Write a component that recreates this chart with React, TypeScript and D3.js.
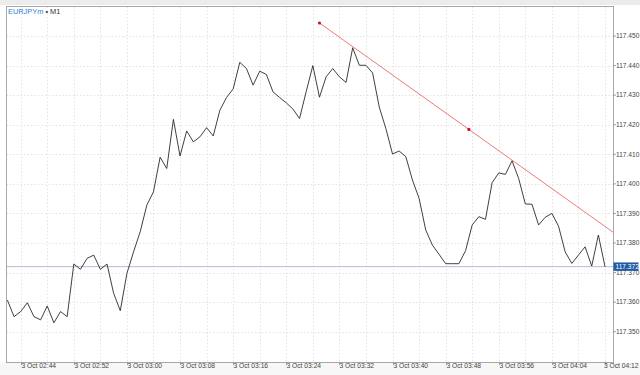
import React from "react";
import * as d3 from "d3";

const symbol = "EURJPYm";
const period = "M1";
const startTime = new Date(2023, 9, 3, 2, 42);
// one close per minute from 02:42 to 04:12
const closes = [
  117.3607, 117.3551, 117.3568, 117.3598, 117.3551, 117.354, 117.3587, 117.353, 117.3568, 117.3551,
  117.3729, 117.3711, 117.3748, 117.3759, 117.3711, 117.3729, 117.363, 117.3571, 117.3697, 117.377,
  117.3838, 117.3928, 117.3973, 117.409, 117.4052, 117.4218, 117.4094, 117.4179, 117.4142, 117.4159,
  117.419, 117.4162, 117.4249, 117.4292, 117.4321, 117.4411, 117.439, 117.4334, 117.4381, 117.437,
  117.4311, 117.4292, 117.4274, 117.4253, 117.4221, 117.4312, 117.44, 117.4293, 117.4362, 117.439,
  117.4362, 117.4343, 117.446, 117.4401, 117.4401, 117.4375, 117.426, 117.4187, 117.4101, 117.4111,
  117.4092, 117.4013, 117.3951, 117.3844, 117.3793, 117.3762, 117.373, 117.373, 117.373, 117.3774,
  117.3861, 117.3889, 117.388, 117.4004, 117.4037, 117.4032, 117.4078, 117.4018, 117.3932, 117.3931,
  117.3861, 117.3887, 117.39, 117.3857, 117.377, 117.3731, 117.3759, 117.3787, 117.3722, 117.3827,
  117.372,
];
const currentPrice = 117.372;
// trendline anchors (minutes after start, price)
const trendMinutes = [47, 92];
const trendPrices = [117.4544, 117.3824];
const priceTicks = [117.35, 117.36, 117.37, 117.38, 117.39, 117.4, 117.41, 117.42, 117.43, 117.44, 117.45];
const timeLabelMinutes = [2, 10, 18, 26, 34, 42, 50, 58, 66, 74, 82, 90];
const gridMinutes = [2, 6, 10, 14, 18, 22, 26, 30, 34, 38, 42, 46, 50, 54, 58, 62, 66, 70, 74, 78, 82, 86, 90];

const W = 640, H = 375;
const L = 6.5, R = 613.5, T = 6.5, B = 362.5;
const FONT = "'Liberation Sans', Arial, sans-serif";

const addMin = (m: number) => new Date(startTime.getTime() + m * 60000);

export default function App() {
  const x = d3.scaleTime().domain([addMin(0), addMin(90)]).range([7.4, 605]);
  const y = d3.scaleLinear().domain([117.35, 117.45]).range([331.7, 36]);
  const pts: [Date, number][] = closes.map((c, i) => [addMin(i), c]);
  const line = d3.line<[Date, number]>().x((d) => x(d[0])).y((d) => y(d[1]));
  const fmtTime = d3.timeFormat("%-d %b %H:%M");
  const ta = trendMinutes.map((m, i) => [x(addMin(m)), y(trendPrices[i])]);
  const mid = [(ta[0][0] + ta[1][0]) / 2, (ta[0][1] + ta[1][1]) / 2];
  const cy = y(currentPrice);

  return (
    <svg width={W} height={H} style={{ position: "absolute", left: 0, top: 0, background: "#fff" }} fontFamily={FONT}>
      <defs>
        <clipPath id="plot">
          <rect x={L} y={T} width={R - L} height={B - T} />
        </clipPath>
      </defs>
      <rect x={0} y={0} width={W} height={H} fill="#fff" />
      <rect x={0} y={0} width={W} height={5} fill="#ececec" />
      <rect x={0} y={B} width={W} height={H - B} fill="#f7f7f7" />
      {/* grid */}
      <g stroke="#dcdcdc" strokeWidth={0.8} strokeDasharray="1.5,2" clipPath="url(#plot)">
        {priceTicks.map((p) => (
          <line key={"h" + p} x1={L} x2={R} y1={Math.round(y(p)) + 0.5} y2={Math.round(y(p)) + 0.5} />
        ))}
        {gridMinutes.map((m) => (
          <line key={"v" + m} x1={Math.round(x(addMin(m))) + 0.5} x2={Math.round(x(addMin(m))) + 0.5} y1={T} y2={B} />
        ))}
      </g>
      {/* current price line */}
      <line x1={L} x2={R} y1={cy} y2={cy} stroke="#b4bcd4" strokeWidth={1} />
      {/* price line */}
      <path d={line(pts) || ""} fill="none" stroke="#2a2a2a" strokeWidth={0.9} clipPath="url(#plot)" />
      {/* trendline */}
      <g clipPath="url(#plot)">
        <line x1={ta[0][0]} y1={ta[0][1]} x2={ta[1][0]} y2={ta[1][1]} stroke="#e86b6b" strokeWidth={0.9} />
        <circle cx={ta[0][0]} cy={ta[0][1]} r={1.6} fill="#c8141e" />
        <circle cx={mid[0]} cy={mid[1]} r={1.6} fill="#c8141e" />
        <circle cx={ta[1][0]} cy={ta[1][1]} r={1.6} fill="#c8141e" />
      </g>
      {/* frame */}
      <rect x={L} y={T} width={R - L} height={B - T} fill="none" stroke="#a8a8a8" strokeWidth={1} />
      {/* legend */}
      <text x={8} y={13.8} fontSize={7.4} fill="#2f7fd8">
        {symbol}
        <tspan fill="#333"> • {period}</tspan>
      </text>
      {/* price axis */}
      {priceTicks.map((p) => (
        <g key={"pt" + p}>
          <line x1={R} x2={R + 2.5} y1={y(p)} y2={y(p)} stroke="#888" strokeWidth={0.8} />
          <text x={R + 2.5} y={y(p) + 2.3} fontSize={6.6} fill="#444">
            {p.toFixed(3)}
          </text>
        </g>
      ))}
      <rect x={R} y={cy - 4.2} width={25} height={8.4} fill="#1f5aa6" />
      <text x={R + 2} y={cy + 2.3} fontSize={6.6} fill="#fff">
        {currentPrice.toFixed(3)}
      </text>
      {/* time axis */}
      {timeLabelMinutes.map((m, i) => {
        const tx = Math.round(x(addMin(m)));
        const last = i === timeLabelMinutes.length - 1;
        return (
          <g key={"tl" + m}>
            <line x1={tx + 0.5} x2={tx + 0.5} y1={B} y2={B + 2.5} stroke="#888" strokeWidth={0.8} />
            <text
              x={last ? 638.5 : tx + 0.5}
              y={368}
              fontSize={6.7}
              fill="#444"
              textAnchor={last ? "end" : "start"}
            >
              {fmtTime(addMin(m))}
            </text>
          </g>
        );
      })}
    </svg>
  );
}
